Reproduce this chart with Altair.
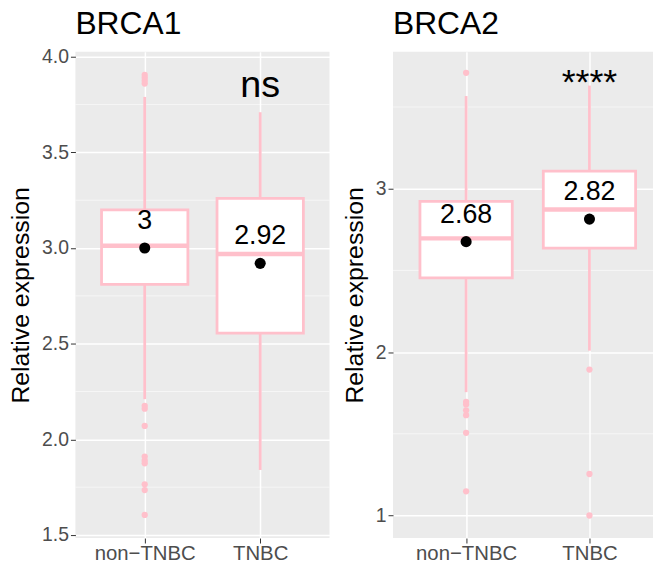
import altair as alt
import pandas as pd

FONT = "Liberation Sans"
PINK = "#FFC0CB"

groups = ["non−TNBC", "TNBC"]

# ---- BRCA1 ----
b1_lower = [2.21, 1.84]
b1_q1 = [2.81, 2.555]
b1_median = [3.012, 2.969]
b1_q3 = [3.20, 3.26]
b1_upper = [3.79, 3.71]
b1_mean = [3.00, 2.92]
b1_mean_label = ["3", "2.92"]
b1_out_group = ["non−TNBC"] * 13
b1_out_value = [3.905, 3.89, 3.875, 3.86, 2.175, 2.16, 2.07,
                1.91, 1.89, 1.875, 1.765, 1.735, 1.605]
b1_sig = "ns"
b1_sig_y = 3.79
b1_ticks = [1.5, 2.0, 2.5, 3.0, 3.5, 4.0]
b1_minor = [1.75, 2.25, 2.75, 3.25, 3.75]
b1_domain = [1.484, 4.026]

# ---- BRCA2 ----
b2_lower = [1.755, 2.009]
b2_q1 = [2.454, 2.636]
b2_median = [2.696, 2.873]
b2_q3 = [2.923, 3.107]
b2_upper = [3.567, 3.631]
b2_mean = [2.676, 2.814]
b2_mean_label = ["2.68", "2.82"]
b2_out_group = ["non−TNBC"] * 7 + ["TNBC"] * 3
b2_out_value = [3.709, 1.695, 1.68, 1.644, 1.614, 1.506, 1.148,
                1.893, 1.254, 1.0]
b2_sig = "****"
b2_sig_y = 3.58
b2_ticks = [1, 2, 3]
b2_minor = [1.5, 2.5, 3.5]
b2_domain = [0.862, 3.838]


def panel(title, lower, q1, med, q3, upper, mean, mean_label, out_g, out_v,
          sig, sig_y, ticks, minor, domain, fmt, width, pad, align, box_w,
          sig_size, title_offset):
    box = pd.DataFrame({"group": groups, "lower": lower, "q1": q1,
                        "median": med, "q3": q3, "upper": upper,
                        "mean": mean, "label": mean_label})
    outs = pd.DataFrame({"group": out_g, "value": out_v})
    mins = pd.DataFrame({"y": minor})
    sigd = pd.DataFrame({"group": [groups[1]], "y": [sig_y], "t": [sig]})

    xs = alt.X("group:N", scale=alt.Scale(type="point", domain=groups,
                                          padding=pad, align=align),
               axis=alt.Axis(title=None, labelAngle=0, labelFontSize=20.5,
                             labelPadding=1))
    yscale = alt.Scale(domain=domain, nice=False, zero=False)
    yaxis = alt.Axis(title="Relative expression", values=ticks, format=fmt,
                     labelFontSize=19.5)

    minor_rules = alt.Chart(mins).mark_rule(color="#FFFFFF", strokeWidth=0.7,
                                            opacity=0.8).encode(
        y=alt.Y("y:Q", scale=yscale, axis=yaxis))

    base = alt.Chart(box)
    w_low = base.mark_rule(color=PINK, strokeWidth=2.8).encode(
        x=xs, y=alt.Y("lower:Q", scale=yscale), y2="q1:Q")
    w_up = base.mark_rule(color=PINK, strokeWidth=2.8).encode(
        x=xs, y=alt.Y("q3:Q", scale=yscale), y2="upper:Q")
    rect = base.mark_bar(size=box_w, fill="white", stroke=PINK,
                         strokeWidth=2.8).encode(
        x=xs, y=alt.Y("q1:Q", scale=yscale), y2="q3:Q")
    median = base.mark_tick(size=box_w, thickness=4.5, color=PINK,
                            opacity=1).encode(
        x=xs, y=alt.Y("median:Q", scale=yscale))
    outliers = alt.Chart(outs).mark_circle(size=40, color=PINK,
                                           opacity=1).encode(
        x=xs, y=alt.Y("value:Q", scale=yscale))
    means = base.mark_circle(size=125, color="black", opacity=1).encode(
        x=xs, y=alt.Y("mean:Q", scale=yscale))
    labels = base.mark_text(fontSize=27, font=FONT, color="black",
                            baseline="alphabetic", dy=-19).encode(
        x=xs, y=alt.Y("mean:Q", scale=yscale), text="label:N")
    sig_t = alt.Chart(sigd).mark_text(fontSize=sig_size, font=FONT,
                                      color="black",
                                      baseline="alphabetic").encode(
        x=xs, y=alt.Y("y:Q", scale=yscale), text="t:N")

    return alt.layer(minor_rules, w_low, w_up, rect, median, outliers, means,
                     labels, sig_t).properties(
        width=width, height=490,
        title=alt.TitleParams(title, anchor="start", frame="group",
                              fontSize=32, font=FONT, fontWeight="normal",
                              color="black", offset=title_offset))


left = panel("BRCA1", b1_lower, b1_q1, b1_median, b1_q3, b1_upper, b1_mean,
             b1_mean_label, b1_out_group, b1_out_value, b1_sig, b1_sig_y,
             b1_ticks, b1_minor, b1_domain, ".1f", 256, 0.6, 0.5, 87, 38, 6)
right = panel("BRCA2", b2_lower, b2_q1, b2_median, b2_q3, b2_upper, b2_mean,
              b2_mean_label, b2_out_group, b2_out_value, b2_sig, b2_sig_y,
              b2_ticks, b2_minor, b2_domain, "d", 262, 0.554, 0.535, 93, 36,
              11)

chart = alt.hconcat(left, right, spacing=12).properties(
    padding={"left": 8, "top": 6, "right": 0, "bottom": 0},
    background="white"
).configure_view(fill="#EBEBEB", stroke=None).configure_axis(
    labelFont=FONT, labelFontSize=19.5, labelColor="#4D4D4D",
    tickColor="#333333", tickSize=5, tickWidth=1, labelPadding=2,
    domain=False, grid=True, gridColor="#FFFFFF", gridWidth=1.5,
    titleFont=FONT, titleFontSize=25, titleFontWeight="normal",
    titleColor="black", titlePadding=8
)

chart.save("out.html", embed_options={"renderer": "svg", "actions": False})
